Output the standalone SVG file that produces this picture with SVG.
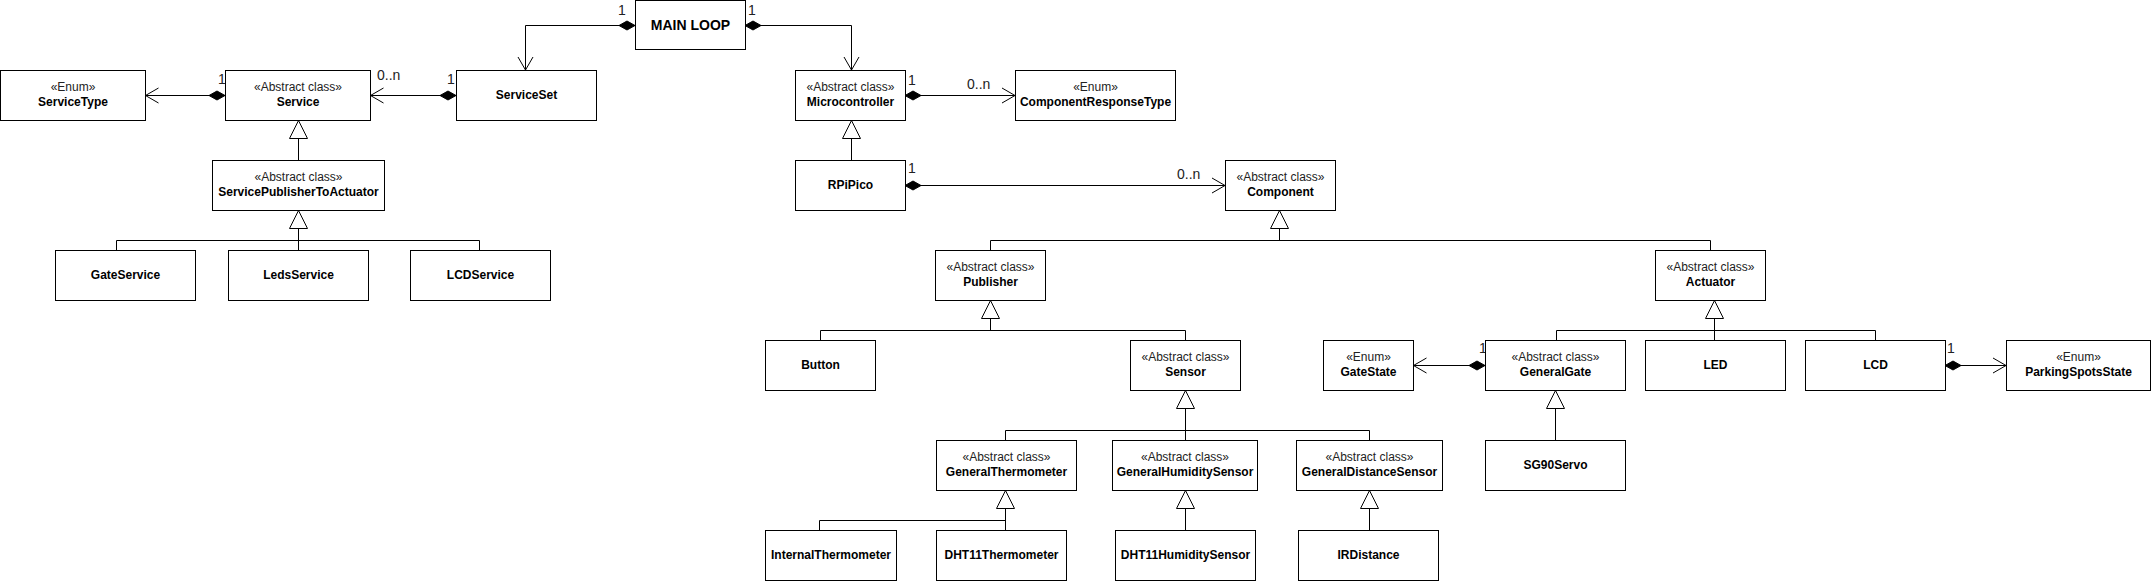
<svg xmlns="http://www.w3.org/2000/svg" width="2151" height="581" viewBox="0 0 2151 581">
<style>
.box{fill:#fff;stroke:#000;stroke-width:1}
.st{font-family:"Liberation Sans",Arial,sans-serif;font-size:12px;fill:#222;text-anchor:middle}
.nm{font-family:"Liberation Sans",Arial,sans-serif;font-size:12px;font-weight:bold;fill:#000;text-anchor:middle}
.big{font-family:"Liberation Sans",Arial,sans-serif;font-size:14px;font-weight:bold;fill:#000;text-anchor:middle}
.lbl{font-family:"Liberation Sans",Arial,sans-serif;font-size:14px;fill:#222}
.ln{fill:none;stroke:#000;stroke-width:1}
.comp{fill:none;stroke:#000;stroke-width:1;marker-start:url(#diamond);marker-end:url(#open)}
.gen{fill:none;stroke:#000;stroke-width:1;marker-end:url(#tri)}
</style>
<defs>
<marker id="open" markerUnits="userSpaceOnUse" markerWidth="16" markerHeight="17" refX="14" refY="8" orient="auto" overflow="visible">
<path d="M1,0.5 L14,8 L1,15.5" fill="none" stroke="#000" stroke-width="1"/>
</marker>
<marker id="diamond" markerUnits="userSpaceOnUse" markerWidth="17" markerHeight="10" refX="0" refY="5" orient="auto" overflow="visible">
<path d="M0,5 L8,0.5 L16,5 L8,9.5 Z" fill="#000" stroke="#000" stroke-width="1"/>
</marker>
<marker id="tri" markerUnits="userSpaceOnUse" markerWidth="19" markerHeight="19" refX="18" refY="9" orient="auto" overflow="visible">
<path d="M0,0 L18,9 L0,18 Z" fill="#fff" stroke="#000" stroke-width="1"/>
</marker>
</defs>

<g id="connectors">
<!-- compositions -->
<path class="comp" d="M635,25.5 H525.5 V70"/>
<path class="comp" d="M745,25.5 H851.5 V70"/>
<path class="comp" d="M456,95.5 H370.5"/>
<path class="comp" d="M225,95.5 H145.5"/>
<path class="comp" d="M905,95.5 H1015"/>
<path class="comp" d="M905,185.5 H1225"/>
<path class="comp" d="M1485,365.5 H1413.5"/>
<path class="comp" d="M1945,365.5 H2006"/>
<!-- generalizations -->
<path class="gen" d="M298.5,160 V120.5"/>
<path class="gen" d="M298.5,250 V210.5"/>
<path class="ln" d="M116.5,250 V240.5 H479.5 V250"/>
<path class="gen" d="M851.5,160 V120.5"/>
<path class="gen" d="M1279.5,240.5 V210.5"/>
<path class="ln" d="M990.5,250 V240.5 H1710.5 V250"/>
<path class="gen" d="M990.5,330.5 V300.5"/>
<path class="ln" d="M820.5,340 V330.5 H1185.5 V340"/>
<path class="gen" d="M1185.5,440 V390.5"/>
<path class="ln" d="M1005.5,440 V430.5 H1369.5 V440"/>
<path class="gen" d="M1005.5,530 V490.5"/>
<path class="ln" d="M819.5,530 V520.5 H1005.5"/>
<path class="gen" d="M1185.5,530 V490.5"/>
<path class="gen" d="M1369.5,530 V490.5"/>
<path class="gen" d="M1714.5,340 V300.5"/>
<path class="ln" d="M1556.5,340 V330.5 H1875.5 V340"/>
<path class="gen" d="M1555.5,440 V390.5"/>
<!-- multiplicities -->
<text class="lbl" x="618" y="15">1</text>
<text class="lbl" x="748" y="15">1</text>
<text class="lbl" x="447" y="84">1</text>
<text class="lbl" x="377" y="80">0..n</text>
<text class="lbl" x="218" y="84">1</text>
<text class="lbl" x="908" y="85">1</text>
<text class="lbl" x="967" y="89">0..n</text>
<text class="lbl" x="908" y="173">1</text>
<text class="lbl" x="1177" y="179">0..n</text>
<text class="lbl" x="1479" y="353">1</text>
<text class="lbl" x="1947" y="353">1</text>
</g>

<g id="MainLoop"><rect class="box" x="635.5" y="0.5" width="110" height="49"/><text class="big" x="690.5" y="30">MAIN LOOP</text></g>
<g id="ServiceType"><rect class="box" x="0.5" y="70.5" width="145" height="50"/><text class="st" x="73" y="91">«Enum»</text><text class="nm" x="73" y="106">ServiceType</text></g>
<g id="Service"><rect class="box" x="225.5" y="70.5" width="145" height="50"/><text class="st" x="298" y="91">«Abstract class»</text><text class="nm" x="298" y="106">Service</text></g>
<g id="ServiceSet"><rect class="box" x="456.5" y="70.5" width="140" height="50"/><text class="nm" x="526.5" y="99">ServiceSet</text></g>
<g id="ServicePublisherToActuator"><rect class="box" x="212.5" y="160.5" width="172" height="50"/><text class="st" x="298.5" y="181">«Abstract class»</text><text class="nm" x="298.5" y="196">ServicePublisherToActuator</text></g>
<g id="GateService"><rect class="box" x="55.5" y="250.5" width="140" height="50"/><text class="nm" x="125.5" y="279">GateService</text></g>
<g id="LedsService"><rect class="box" x="228.5" y="250.5" width="140" height="50"/><text class="nm" x="298.5" y="279">LedsService</text></g>
<g id="LCDService"><rect class="box" x="410.5" y="250.5" width="140" height="50"/><text class="nm" x="480.5" y="279">LCDService</text></g>
<g id="Microcontroller"><rect class="box" x="795.5" y="70.5" width="110" height="50"/><text class="st" x="850.5" y="91">«Abstract class»</text><text class="nm" x="850.5" y="106">Microcontroller</text></g>
<g id="ComponentResponseType"><rect class="box" x="1015.5" y="70.5" width="160" height="50"/><text class="st" x="1095.5" y="91">«Enum»</text><text class="nm" x="1095.5" y="106">ComponentResponseType</text></g>
<g id="RPiPico"><rect class="box" x="795.5" y="160.5" width="110" height="50"/><text class="nm" x="850.5" y="189">RPiPico</text></g>
<g id="Component"><rect class="box" x="1225.5" y="160.5" width="110" height="50"/><text class="st" x="1280.5" y="181">«Abstract class»</text><text class="nm" x="1280.5" y="196">Component</text></g>
<g id="Publisher"><rect class="box" x="935.5" y="250.5" width="110" height="50"/><text class="st" x="990.5" y="271">«Abstract class»</text><text class="nm" x="990.5" y="286">Publisher</text></g>
<g id="Actuator"><rect class="box" x="1655.5" y="250.5" width="110" height="50"/><text class="st" x="1710.5" y="271">«Abstract class»</text><text class="nm" x="1710.5" y="286">Actuator</text></g>
<g id="Button"><rect class="box" x="765.5" y="340.5" width="110" height="50"/><text class="nm" x="820.5" y="369">Button</text></g>
<g id="Sensor"><rect class="box" x="1130.5" y="340.5" width="110" height="50"/><text class="st" x="1185.5" y="361">«Abstract class»</text><text class="nm" x="1185.5" y="376">Sensor</text></g>
<g id="GateState"><rect class="box" x="1323.5" y="340.5" width="90" height="50"/><text class="st" x="1368.5" y="361">«Enum»</text><text class="nm" x="1368.5" y="376">GateState</text></g>
<g id="GeneralGate"><rect class="box" x="1485.5" y="340.5" width="140" height="50"/><text class="st" x="1555.5" y="361">«Abstract class»</text><text class="nm" x="1555.5" y="376">GeneralGate</text></g>
<g id="LED"><rect class="box" x="1645.5" y="340.5" width="140" height="50"/><text class="nm" x="1715.5" y="369">LED</text></g>
<g id="LCD"><rect class="box" x="1805.5" y="340.5" width="140" height="50"/><text class="nm" x="1875.5" y="369">LCD</text></g>
<g id="ParkingSpotsState"><rect class="box" x="2006.5" y="340.5" width="144" height="50"/><text class="st" x="2078.5" y="361">«Enum»</text><text class="nm" x="2078.5" y="376">ParkingSpotsState</text></g>
<g id="GeneralThermometer"><rect class="box" x="936.5" y="440.5" width="140" height="50"/><text class="st" x="1006.5" y="461">«Abstract class»</text><text class="nm" x="1006.5" y="476">GeneralThermometer</text></g>
<g id="GeneralHumiditySensor"><rect class="box" x="1112.5" y="440.5" width="145" height="50"/><text class="st" x="1185" y="461">«Abstract class»</text><text class="nm" x="1185" y="476">GeneralHumiditySensor</text></g>
<g id="GeneralDistanceSensor"><rect class="box" x="1296.5" y="440.5" width="146" height="50"/><text class="st" x="1369.5" y="461">«Abstract class»</text><text class="nm" x="1369.5" y="476">GeneralDistanceSensor</text></g>
<g id="SG90Servo"><rect class="box" x="1485.5" y="440.5" width="140" height="50"/><text class="nm" x="1555.5" y="469">SG90Servo</text></g>
<g id="InternalThermometer"><rect class="box" x="765.5" y="530.5" width="131" height="50"/><text class="nm" x="831" y="559">InternalThermometer</text></g>
<g id="DHT11Thermometer"><rect class="box" x="936.5" y="530.5" width="130" height="50"/><text class="nm" x="1001.5" y="559">DHT11Thermometer</text></g>
<g id="DHT11HumiditySensor"><rect class="box" x="1115.5" y="530.5" width="140" height="50"/><text class="nm" x="1185.5" y="559">DHT11HumiditySensor</text></g>
<g id="IRDistance"><rect class="box" x="1298.5" y="530.5" width="140" height="50"/><text class="nm" x="1368.5" y="559">IRDistance</text></g>
</svg>
